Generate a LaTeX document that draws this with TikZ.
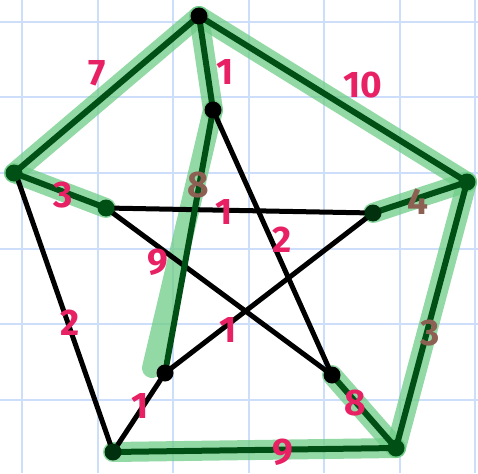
\documentclass[tikz,border=0pt]{standalone}
\usepackage{fontspec}
\setmainfont{Fira Sans}
\definecolor{gridblue}{RGB}{204,222,250}
\definecolor{hlgreen}{RGB}{110,205,135}
\definecolor{dkgreen}{RGB}{0,80,22}
\definecolor{pinkw}{RGB}{232,32,100}
\definecolor{brownw}{RGB}{140,96,82}
\tikzset{
  vdot/.style={circle,fill=#1,inner sep=0pt,minimum size=17pt},
  hl/.style={draw=hlgreen,line width=20pt,opacity=0.75,line cap=round},
  tedge/.style={draw=dkgreen,line width=6pt,line cap=round},
  bedge/.style={draw=black,line width=5pt,line cap=round},
  wlab/.style={text=#1,font=\fontsize{37}{37}\selectfont\bfseries,inner sep=0pt},
}
\begin{document}
\begin{tikzpicture}[x=1pt,y=-1pt]
\useasboundingbox (0,0) rectangle (478,473);
\fill[white] (0,0) rectangle (478,473);
% grid
\foreach \g in {22,97.5,173,248.5,324,399.5,475}{
  \draw[gridblue,line width=2pt] (\g,0) -- (\g,473);
  \draw[gridblue,line width=2pt] (0,\g) -- (478,\g);
}
% vertices
\coordinate (A) at (199,16);
\coordinate (B) at (213,110);
\coordinate (C) at (14,173);
\coordinate (D) at (106,208);
\coordinate (E) at (467,182);
\coordinate (F) at (373,213);
\coordinate (G) at (165,373);
\coordinate (H) at (113,452);
\coordinate (I) at (332,375);
\coordinate (J) at (396,448);
\coordinate (G2) at (152,368);
\coordinate (C2) at (18,180);
% highlights
\draw[hl] (A) -- (C);
\draw[hl] (A) -- (E);
\draw[hl] (A) -- (B);
\draw[hl] (C) -- (D);
\draw[hl] (E) -- (F);
\draw[hl] (E) -- (J);
\draw[hl] (H) -- (J);
\draw[hl] (J) -- (I);
\draw[hl] (B) -- (G2);
% black edges
\draw[bedge] (C2) -- (H);
\draw[bedge] (H) -- (G);
\draw[bedge] (B) -- (I);
\draw[bedge] (D) -- (F);
\draw[bedge] (D) -- (I);
\draw[bedge] (F) -- (G);
% tree edges
\draw[tedge] (A) -- (C);
\draw[tedge] (A) -- (E);
\draw[tedge] (A) -- (B);
\draw[tedge] (C) -- (D);
\draw[tedge] (E) -- (F);
\draw[tedge] (E) -- (J);
\draw[tedge] (H) -- (J);
\draw[tedge] (J) -- (I);
\draw[tedge] (B) -- (G);
% dots
\node[vdot=black] (nA) at (A) {};
\node[vdot=black] (nB) at (B) {};
\node[vdot=dkgreen] (nC) at (C) {};
\node[vdot=dkgreen] (nD) at (D) {};
\node[vdot=dkgreen] (nE) at (E) {};
\node[vdot=dkgreen!60!black] (nF) at (F) {};
\node[vdot=black] (nG) at (G) {};
\node[vdot=dkgreen!60!black] (nH) at (H) {};
\node[vdot=black] (nI) at (I) {};
\node[vdot=dkgreen] (nJ) at (J) {};
% weights
\node[wlab=pinkw] (w1) at (97,73) {7};
\node[wlab=pinkw] (w2) at (225,72) {1};
\node[wlab=pinkw] (w3) at (363,85) {10};
\node[wlab=pinkw] (w4) at (63,195) {3};
\node[wlab=brownw] (w5) at (198,185) {8};
\node[wlab=pinkw] (w6) at (224,212) {1};
\node[wlab=brownw] (w7) at (418,202) {4};
\node[wlab=pinkw] (w8) at (282,240) {2};
\node[wlab=pinkw] (w9) at (158,262) {9};
\node[wlab=pinkw] (w10) at (70,323) {2};
\node[wlab=pinkw] (w11) at (228,330) {1};
\node[wlab=pinkw] (w12) at (140,406) {1};
\node[wlab=brownw] (w13) at (430,333) {3};
\node[wlab=pinkw] (w14) at (355,403) {8};
\node[wlab=pinkw] (w15) at (283,452) {9};
\end{tikzpicture}
\end{document}
